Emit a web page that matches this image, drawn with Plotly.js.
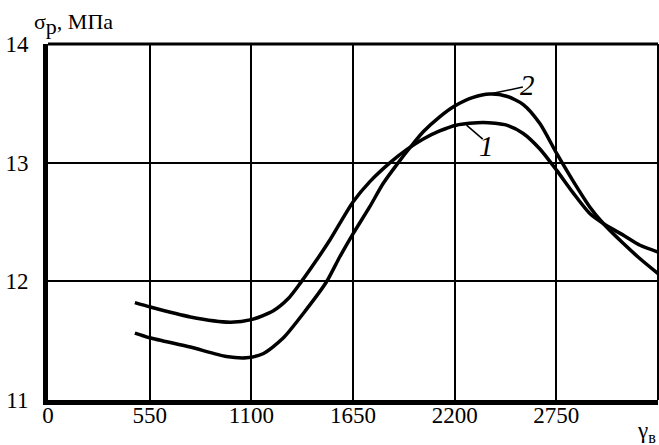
<!DOCTYPE html>
<html>
<head>
<meta charset="utf-8">
<script src="https://cdn.plot.ly/plotly-3.0.1.min.js"></script>
<style>html,body{margin:0;padding:0;background:#fff}#chart{width:659px;height:445px}</style>
</head>
<body>
<div id="chart"></div>
<script>
// Curve 1
const x1 = [470, 550, 770, 985, 1100, 1217, 1300, 1365, 1452, 1524, 1650, 1740, 1849, 1940, 2030, 2119, 2209, 2354, 2481, 2571, 2661, 2751, 2841, 2931, 3004, 3113, 3203, 3300];
const y1 = [11.82, 11.785, 11.70, 11.656, 11.677, 11.75, 11.855, 11.985, 12.177, 12.346, 12.669, 12.838, 12.998, 13.11, 13.20, 13.268, 13.316, 13.339, 13.316, 13.246, 13.115, 12.937, 12.745, 12.571, 12.487, 12.388, 12.304, 12.247];
// Curve 2
const x2 = [470, 550, 770, 965, 1073, 1163, 1271, 1380, 1506, 1578, 1650, 1740, 1813, 1894, 1960, 2030, 2119, 2200, 2300, 2390, 2481, 2571, 2661, 2751, 2841, 2931, 3004, 3113, 3203, 3300];
const y2 = [11.564, 11.525, 11.446, 11.367, 11.356, 11.39, 11.52, 11.727, 11.994, 12.205, 12.40, 12.627, 12.824, 12.998, 13.13, 13.26, 13.386, 13.477, 13.55, 13.578, 13.56, 13.49, 13.33, 13.08, 12.845, 12.627, 12.487, 12.318, 12.19, 12.065];

const xTicks = [0, 550, 1100, 1650, 2200, 2750];
const yTicks = [11, 12, 13, 14];
const curveNames = ['1', '2'];

const FONT = 'Liberation Serif';

const lineStyle = {color: '#000', width: 3.5, shape: 'spline', smoothing: 0.7};
const data = [
  {x: x1, y: y1, type: 'scatter', mode: 'lines', line: lineStyle, name: curveNames[0], hoverinfo: 'skip'},
  {x: x2, y: y2, type: 'scatter', mode: 'lines', line: lineStyle, name: curveNames[1], hoverinfo: 'skip'}
];

const layout = {
  width: 659, height: 445,
  margin: {l: 48, r: 1, t: 44, b: 45, pad: 0},
  paper_bgcolor: '#fff', plot_bgcolor: '#fff',
  showlegend: false,
  font: {family: FONT, size: 23, color: '#000'},
  xaxis: {
    range: [0, 3300], tickvals: xTicks, ticktext: xTicks.map(String),
    showgrid: true, gridcolor: '#000', gridwidth: 2,
    showline: true, linecolor: '#000', linewidth: 5,
    zeroline: false, ticks: '', ticklabelstandoff: -10,
    tickfont: {family: FONT, size: 23, color: '#000'}
  },
  yaxis: {
    range: [11, 14], tickvals: yTicks, ticktext: yTicks.map(String),
    showgrid: true, gridcolor: '#000', gridwidth: 2,
    showline: true, linecolor: '#000', linewidth: 5,
    zeroline: false, ticks: '', ticklabelstandoff: 10,
    tickfont: {family: FONT, size: 23, color: '#000'}
  },
  shapes: [
    {type: 'line', xref: 'paper', yref: 'paper', x0: 0, x1: 1, y0: 1, y1: 1, line: {color: '#000', width: 3}},
    {type: 'line', xref: 'paper', yref: 'paper', x0: 1, x1: 1, y0: 0, y1: 1, line: {color: '#000', width: 2}},
    {type: 'line', xref: 'x', yref: 'y', x0: 2401, y0: 13.582, x1: 2569, y1: 13.637, line: {color: '#000', width: 1.5}},
    {type: 'line', xref: 'x', yref: 'y', x0: 2264, y0: 13.316, x1: 2352, y1: 13.198, line: {color: '#000', width: 1.5}}
  ],
  annotations: [
    {xref: 'paper', yref: 'paper', x: -0.026, y: 1.055, xanchor: 'left', yanchor: 'middle', showarrow: false,
     text: 'σ<sub><span style="font-size:22px">p</span></sub>, МПа', font: {family: FONT, size: 22, color: '#000'}},
    {xref: 'paper', yref: 'paper', x: 0.962, y: -0.09, xanchor: 'left', yanchor: 'middle', showarrow: false,
     text: 'γ<sub>в</sub>', font: {family: FONT, size: 23, color: '#000'}},
    {xref: 'x', yref: 'y', x: 2596, y: 13.654, showarrow: false, text: curveNames[1],
     font: {family: FONT, size: 29, color: '#000', style: 'italic'}},
    {xref: 'x', yref: 'y', x: 2374, y: 13.139, showarrow: false, text: curveNames[0],
     font: {family: FONT, size: 29, color: '#000', style: 'italic'}}
  ]
};

Plotly.newPlot('chart', data, layout, {displayModeBar: false, staticPlot: true});
</script>
</body>
</html>
